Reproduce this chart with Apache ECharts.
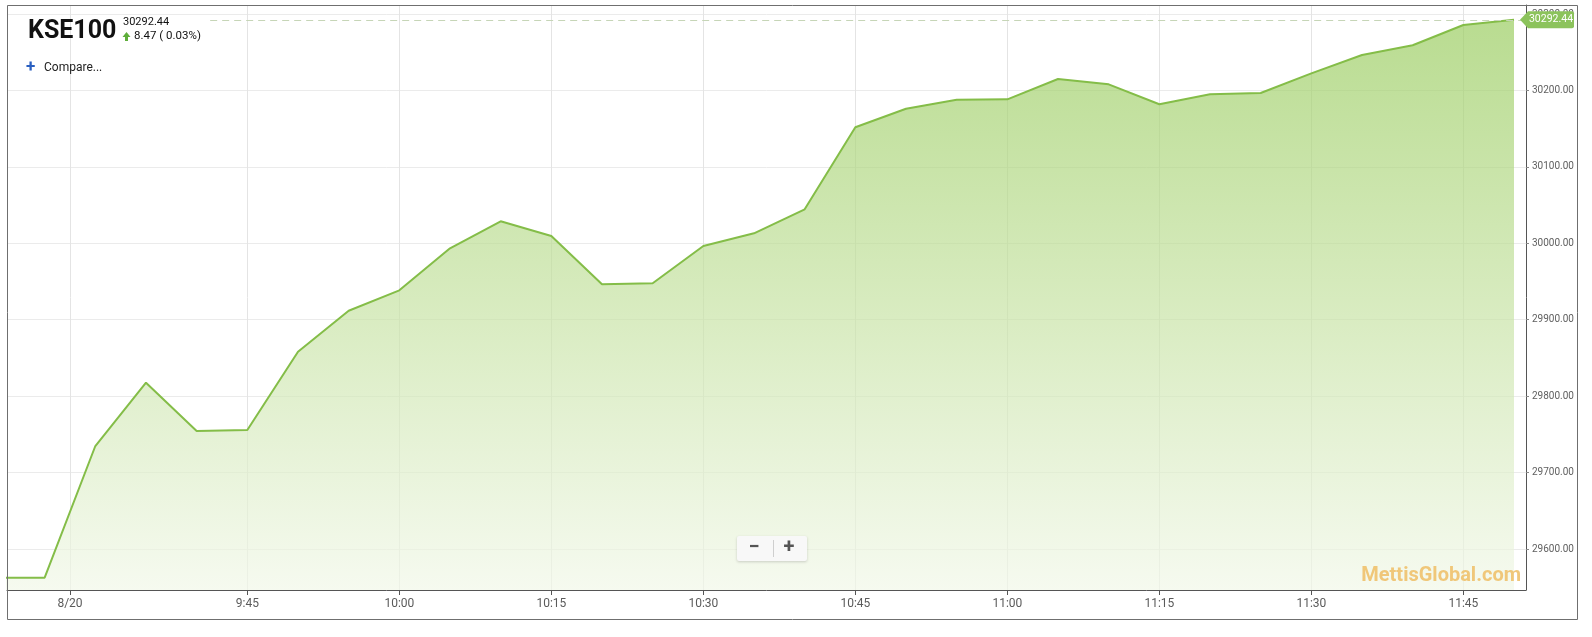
<!DOCTYPE html>
<html>
<head>
<meta charset="utf-8">
<script src="https://cdn.jsdelivr.net/npm/echarts@6/dist/echarts.min.js"></script>
<style>
html,body{margin:0;padding:0;background:#fff;}
#chart{width:1592px;height:637px;}
</style>
</head>
<body>
<div id="chart"></div>
<script>
// ---- data ----
const times = ['9:20','9:25','9:30','9:35','9:40','9:45','9:50','9:55','10:00','10:05','10:10','10:15','10:20','10:25','10:30','10:35','10:40','10:45','10:50','10:55','11:00','11:05','11:10','11:15','11:20','11:25','11:30','11:35','11:40','11:45','11:50'];
const values = [29562.5,29562.5,29734.8,29817.6,29754.4,29755.7,29858.2,29911.8,29938.5,29993.5,30028.8,30009.6,29946.4,29947.7,29996.5,30013.1,30044.5,30151.8,30176.1,30187.9,30188.4,30215.0,30208.0,30181.9,30194.9,30196.6,30222.4,30246.4,30259.1,30285.6,30292.44];
const tickTimes = ['9:27:30','9:45','10:00','10:15','10:30','10:45','11:00','11:15','11:30','11:45'];
const tickLabels = ['8/20','9:45','10:00','10:15','10:30','10:45','11:00','11:15','11:30','11:45'];
const title = 'KSE100';
const lastPrice = '30292.44';
const change = '8.47 ( 0.03%)';

function toMin(s){ const p = s.split(':').map(Number); return p[0]*60 + p[1] + (p[2]||0)/60; }
const seriesData = times.map((t,i)=>[toMin(t), values[i]]);
const tickVals = tickTimes.map(toMin);
const labelMap = {};
tickVals.forEach((v,i)=>{ labelMap[v.toFixed(3)] = tickLabels[i]; });
const last = seriesData[seriesData.length-1];

const X_MIN = toMin('9:21:17'), X_MAX = toMin('11:51:11');
const Y_MIN = 29546.4, Y_MAX = 30311.8;

const chart = echarts.init(document.getElementById('chart'), null, {renderer:'canvas'});
const option = {
  animation:false,
  textStyle:{fontFamily:'Roboto, "Noto Sans", sans-serif'},
  grid:{left:7, right:66, top:5, bottom:47, containLabel:false},
  xAxis:{
    type:'value', min:X_MIN, max:X_MAX,
    axisLine:{show:true, lineStyle:{color:'#555', width:1}},
    axisTick:{show:true, length:5, customValues:tickVals, lineStyle:{color:'#555'}},
    axisLabel:{customValues:tickVals, color:'#5a5a5a', fontSize:12, margin:8,
      formatter:v=>labelMap[v.toFixed(3)] || ''},
    splitLine:{show:true, lineStyle:{color:'#e4e4e4', width:1}}
  },
  yAxis:{
    type:'value', position:'right', min:Y_MIN, max:Y_MAX, splitNumber:8, scale:true,
    axisLine:{show:true, lineStyle:{color:'#555', width:1}},
    axisTick:{show:true, length:3, lineStyle:{color:'#888'}},
    axisLabel:{color:'#606060', fontSize:10, margin:6, showMinLabel:false, showMaxLabel:false,
      hideOverlap:false, formatter:v=>v.toFixed(2)},
    splitLine:{show:true, lineStyle:{color:'#ebebeb', width:1}}
  },
  series:[{
    type:'line', data:seriesData, symbol:'none', clip:true,
    lineStyle:{color:'#84bd48', width:2},
    itemStyle:{color:'#84bd48'},
    areaStyle:{color:new echarts.graphic.LinearGradient(0,0,0,1,[
      {offset:0,color:'#9acc60'},{offset:0.5,color:'#c6e2a3'},{offset:1,color:'#f1f7e8'}])},
    markLine:{
      silent:true, symbol:'none', animation:false,
      lineStyle:{color:'#c6d5b7', type:[7,5], width:1},
      label:{show:false},
      data:[[{xAxis:toMin('9:41:20'), yAxis:last[1]},{xAxis:X_MAX, yAxis:last[1]}]]
    },
    markPoint:{
      silent:true, animation:false,
      symbol:'path://M0,8.5 L8,0 L52,0 Q54,0 54,2 L54,15 Q54,17 52,17 L8,17 Z',
      symbolSize:[54,17], symbolKeepAspect:false,
      symbolOffset:[33,0],
      itemStyle:{color:'#8cc35c'},
      label:{show:true, position:'inside', offset:[4,0], color:'#fff', fontSize:10.5,
        formatter:()=>lastPrice},
      data:[{coord:last, value:last[1]}]
    }
  }],
  graphic:[
    {type:'rect', shape:{x:7.5,y:5.5,width:1570,height:614}, style:{fill:null, stroke:'#6f6f6f', lineWidth:1}, z:100, silent:true},
    {type:'text', left:28, top:19, style:{text:title, font:'bold 25px Roboto', fill:'#111'}, z:101},
    {type:'text', left:123, top:17, style:{text:lastPrice, font:'11px Roboto', fill:'#111'}, z:101},
    {type:'polygon', shape:{points:[[122.5,37],[126.5,32],[130.5,37],[128,37],[128,41],[125,41],[125,37]]}, style:{fill:'#5fae3b'}, z:101},
    {type:'text', left:134, top:30, style:{text:change, font:'11.5px Roboto', fill:'#111'}, z:101},
    {type:'text', left:26, top:59, style:{text:'+', font:'bold 17px Roboto', fill:'#2a5fc0'}, z:101},
    {type:'text', left:44, top:62, style:{text:'Compare...', font:'12px Roboto', fill:'#222'}, z:101},
    {type:'text', right:71, top:566, style:{text:'MettisGlobal.com', font:'bold 20px Roboto', fill:'#efc473', opacity:0.95}, z:101},
    {type:'rect', shape:{x:737,y:536,width:70,height:25,r:2}, style:{fill:'#f8f8f8', shadowBlur:3, shadowColor:'rgba(0,0,0,0.18)', shadowOffsetY:1}, z:101},
    {type:'line', shape:{x1:773.5,y1:540,x2:773.5,y2:557}, style:{stroke:'#cfcfcf', lineWidth:1}, z:102},
    {type:'text', x:754, y:548, style:{text:'−', font:'bold 20px Roboto', fill:'#555', align:'center', verticalAlign:'middle'}, z:102},
    {type:'text', x:789, y:548, style:{text:'+', font:'bold 20px Roboto', fill:'#555', align:'center', verticalAlign:'middle'}, z:102}
  ]
};
chart.setOption(option);
</script>
</body>
</html>
